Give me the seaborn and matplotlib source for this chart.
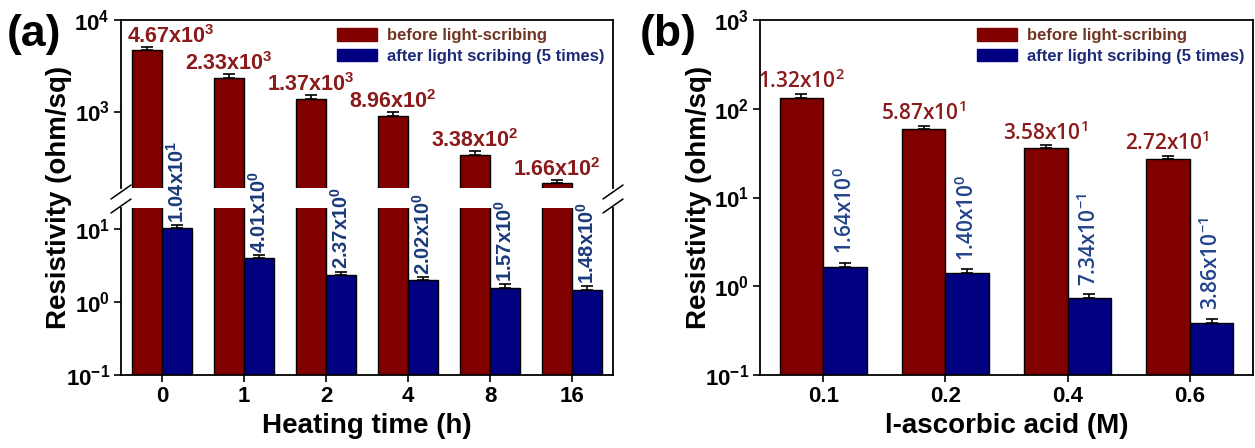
import numpy as np
import pandas as pd
import matplotlib
matplotlib.use('Agg')
import matplotlib.pyplot as plt
import seaborn as sns
from matplotlib.ticker import LogLocator, LogFormatterMathtext, NullLocator
from matplotlib.patches import Patch
from matplotlib.lines import Line2D

# ---------------- data ----------------
series_names = ['before light-scribing', 'after light scribing (5 times)']

heat_times = ['0', '1', '2', '4', '8', '16']
heat_before = [4670, 2330, 1370, 896, 338, 166]
heat_before_err = [420, 230, 140, 85, 35, 14]
heat_after = [10.4, 4.01, 2.37, 2.02, 1.57, 1.48]
heat_after_err = [1.1, 0.45, 0.25, 0.2, 0.18, 0.18]
heat_before_labels = ['4.67x10$^{3}$', '2.33x10$^{3}$', '1.37x10$^{3}$',
                      '8.96x10$^{2}$', '3.38x10$^{2}$', '1.66x10$^{2}$']
heat_after_labels = ['1.04x10$^{1}$', '4.01x10$^{0}$', '2.37x10$^{0}$',
                     '2.02x10$^{0}$', '1.57x10$^{0}$', '1.48x10$^{0}$']

acid_conc = ['0.1', '0.2', '0.4', '0.6']
acid_before = [132, 58.7, 35.8, 27.2]
acid_before_err = [15, 6, 3, 2.5]
acid_after = [1.64, 1.40, 0.734, 0.386]
acid_after_err = [0.2, 0.15, 0.08, 0.045]
acid_before_labels = ['1.32x10$^{2}$', '5.87x10$^{1}$', '3.58x10$^{1}$', '2.72x10$^{1}$']
acid_after_labels = ['1.64x10$^{0}$', '1.40x10$^{0}$', '7.34x10$^{-1}$', '3.86x10$^{-1}$']

# ---------------- style ----------------
sns.set_style('ticks')
plt.rcParams['font.family'] = ['Liberation Sans', 'DejaVu Sans']
plt.rcParams['font.weight'] = 'bold'
plt.rcParams['mathtext.default'] = 'regular'
plt.rcParams['axes.unicode_minus'] = False
plt.rcParams['axes.linewidth'] = 1.3
for key in ('text.color', 'axes.labelcolor', 'xtick.color', 'ytick.color',
            'axes.edgecolor'):
    plt.rcParams[key] = 'black'

RED = '#800000'
BLUE = '#000080'
RED_TXT = '#8b1a1a'
BLUE_TXT_A = '#1a3a7a'
BLUE_TXT_B = '#23448a'
LEG_RED_TXT = '#6e3522'
LEG_BLUE_TXT = '#1c2a78'

W, H = 1255, 448
fig = plt.figure(figsize=(W / 100, H / 100), dpi=100)


def fx(px):
    return px / W


def fy(py):
    return 1 - py / H


def make_df(cats, before, after):
    return pd.DataFrame({
        'cat': list(cats) * 2,
        'val': list(before) + list(after),
        'series': [series_names[0]] * len(cats) + [series_names[1]] * len(cats),
    })


def draw_bars(ax, df, cats, errs):
    ax.set_yscale('log', nonpositive='clip')
    sns.barplot(data=df, x='cat', y='val', hue='series', order=cats,
                hue_order=series_names, palette=[RED, BLUE], saturation=1,
                width=0.72, edgecolor='black', linewidth=1.0, errorbar=None,
                legend=False, ax=ax)
    # bars on a log axis: start them at a tiny positive value instead of zero
    for p in ax.patches:
        top = p.get_y() + p.get_height()
        base = 1e-4
        p.set_y(base)
        p.set_height(top - base)
    centers_all = []
    for cont, (vals, err) in zip(ax.containers, errs):
        centers = [p.get_x() + p.get_width() / 2 for p in cont]
        centers_all.append(centers)
        ax.errorbar(centers, vals, yerr=[np.zeros(len(vals)), err], fmt='none',
                    ecolor='black', elinewidth=1.2, capsize=4, capthick=1.2,
                    zorder=5)
    ax.set_xlabel('')
    ax.set_ylabel('')
    return centers_all


def style_axis(ax):
    ax.yaxis.set_major_locator(LogLocator(base=10, numticks=10))
    ax.yaxis.set_major_formatter(LogFormatterMathtext())
    ax.yaxis.set_minor_locator(NullLocator())
    ax.tick_params(axis='both', direction='out', length=5, width=1.2,
                   labelsize=16, pad=3, colors='black')
    for s in ax.spines.values():
        s.set_visible(True)
        s.set_linewidth(1.3)
        s.set_color('black')
    ax.patch.set_alpha(0)


# ---------------- panel (a) ----------------
left_a, right_a = 121, 613
ax_top = fig.add_axes([fx(left_a), fy(188), fx(right_a - left_a), (188 - 20) / H])
ax_bot = fig.add_axes([fx(left_a), fy(375), fx(right_a - left_a), (375 - 208) / H])
ax_bot.set_zorder(ax_top.get_zorder() + 1)

df_a = make_df(heat_times, heat_before, heat_after)
errs_a = [(heat_before, heat_before_err), (heat_after, heat_after_err)]
cent_top = draw_bars(ax_top, df_a, heat_times, errs_a)
cent_bot = draw_bars(ax_bot, df_a, heat_times, errs_a)

for ax in (ax_top, ax_bot):
    style_axis(ax)
    ax.set_xlim(-0.5, 5.5)
ax_top.set_ylim(146, 1e4)
ax_bot.set_ylim(0.1, 19.5)
ax_top.spines['bottom'].set_visible(False)
ax_top.tick_params(axis='x', bottom=False, labelbottom=False)
ax_bot.spines['top'].set_visible(False)
ax_bot.set_xlabel('Heating time (h)', fontsize=20, fontweight='bold', labelpad=4)

for i, (x, v, e, lab) in enumerate(zip(cent_top[0], heat_before, heat_before_err,
                                       heat_before_labels)):
    dx = 17 if i == 0 else 0
    ax_top.annotate(lab, xy=(x, v + e), xytext=(dx, 3), textcoords='offset points',
                    ha='center', va='baseline', color=RED_TXT, fontsize=15.5,
                    fontweight='bold', annotation_clip=False)
for x, v, e, lab in zip(cent_bot[1], heat_after, heat_after_err, heat_after_labels):
    ax_bot.annotate(lab, xy=(x, v + e), xytext=(0, 1.5), textcoords='offset points',
                    ha='center', va='bottom', rotation=90, color=BLUE_TXT_A,
                    fontsize=14.5, fontweight='bold', annotation_clip=False,
                    clip_on=False, zorder=10)

# break marks
for xpx in (left_a, right_a):
    for ypx in (192, 206):
        fig.add_artist(Line2D([fx(xpx - 10), fx(xpx + 10)], [fy(ypx + 7), fy(ypx - 7)],
                              transform=fig.transFigure, color='black', lw=1.1))

handles = [Patch(facecolor=RED, edgecolor=RED), Patch(facecolor=BLUE, edgecolor=BLUE)]
ax_top.legend(handles, series_names, loc='upper right', bbox_to_anchor=(1.0, 1.0),
              frameon=False, prop={'size': 12, 'weight': 'bold'},
              labelcolor=[LEG_RED_TXT, LEG_BLUE_TXT], handlelength=2.4,
              handleheight=0.75, labelspacing=0.35, handletextpad=0.6,
              borderaxespad=0.3, borderpad=0.2)

fig.text(0.005, fy(14), '(a)', fontsize=32, fontweight='bold', va='top', ha='left')
fig.text(fx(59), fy(197), 'Resistivity (ohm/sq)', rotation=90, fontsize=20,
         fontweight='bold', ha='center', va='center')

# ---------------- panel (b) ----------------
left_b, right_b = 760, 1253
ax_b = fig.add_axes([fx(left_b), fy(375), fx(right_b - left_b), (375 - 20) / H])
df_b = make_df(acid_conc, acid_before, acid_after)
errs_b = [(acid_before, acid_before_err), (acid_after, acid_after_err)]
cent_b = draw_bars(ax_b, df_b, acid_conc, errs_b)
style_axis(ax_b)
ax_b.set_xlim(-0.52, 3.52)
ax_b.set_ylim(0.1, 1e3)
ax_b.set_xlabel('l-ascorbic acid (M)', fontsize=20, fontweight='bold', labelpad=4)

for x, v, e, lab in zip(cent_b[0], acid_before, acid_before_err, acid_before_labels):
    ax_b.annotate(lab, xy=(x, v + e), xytext=(0, 4), textcoords='offset points',
                  ha='center', va='baseline', color=RED_TXT, fontsize=15,
                  fontweight='semibold', family=['Open Sans', 'DejaVu Sans'],
                  annotation_clip=False)
for x, v, e, lab in zip(cent_b[1], acid_after, acid_after_err, acid_after_labels):
    ax_b.annotate(lab, xy=(x, v + e), xytext=(0, 6), textcoords='offset points',
                  ha='center', va='bottom', rotation=90, color=BLUE_TXT_B,
                  fontsize=15, fontweight='semibold', family=['Open Sans', 'DejaVu Sans'],
                  annotation_clip=False)

ax_b.legend(handles, series_names, loc='upper right', bbox_to_anchor=(1.0, 1.0),
            frameon=False, prop={'size': 12, 'weight': 'bold'},
            labelcolor=[LEG_RED_TXT, LEG_BLUE_TXT], handlelength=2.4,
            handleheight=0.75, labelspacing=0.35, handletextpad=0.6,
            borderaxespad=0.3, borderpad=0.2)

fig.text(fx(640), fy(14), '(b)', fontsize=32, fontweight='bold', va='top', ha='left')
fig.text(fx(699), fy(197), 'Resistivity (ohm/sq)', rotation=90, fontsize=20,
         fontweight='bold', ha='center', va='center')

fig.savefig('out.png', dpi=100, facecolor='white')
